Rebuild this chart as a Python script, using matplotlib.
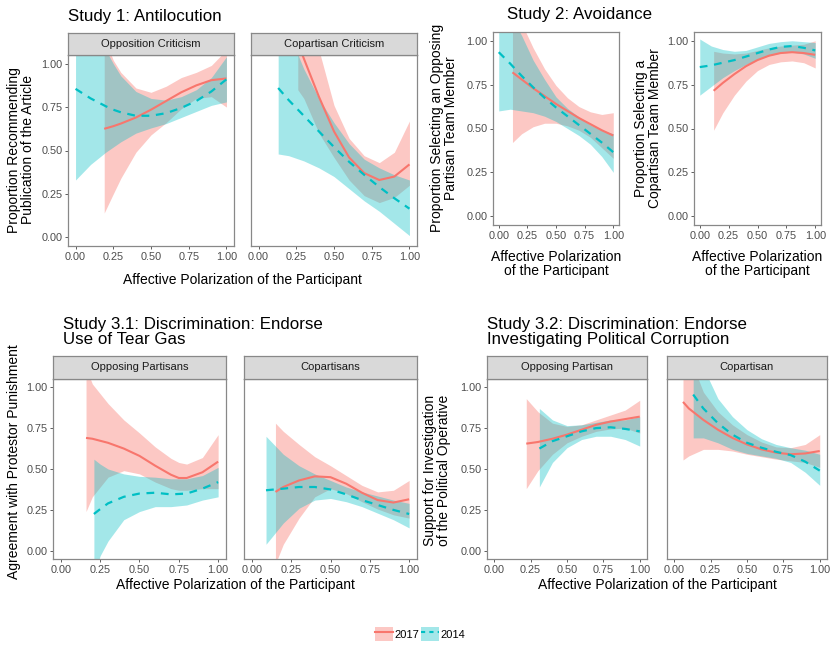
import matplotlib
matplotlib.use("Agg")
import matplotlib.pyplot as plt
from matplotlib.patches import Patch
from matplotlib.lines import Line2D

plt.rcParams['font.family'] = ['Liberation Sans', 'DejaVu Sans']

RED = '#F8766D'
BLUE = '#00BFC4'
W, H = 834, 648

# ---- Study 1, Opposition Criticism
s1_opp_x17 = [0.19, 0.25, 0.3, 0.4, 0.5, 0.6, 0.7, 0.8, 0.9, 1.0]
s1_opp_y17 = [0.625, 0.64, 0.655, 0.69, 0.735, 0.785, 0.835, 0.875, 0.905, 0.915]
s1_opp_lo17 = [0.14, 0.25, 0.34, 0.49, 0.59, 0.66, 0.74, 0.80, 0.81, 0.75]
s1_opp_hi17 = [1.15, 1.02, 0.95, 0.86, 0.835, 0.87, 0.92, 0.95, 0.99, 1.08]
s1_opp_x14 = [0.0, 0.1, 0.2, 0.25, 0.3, 0.4, 0.5, 0.6, 0.7, 0.8, 0.9, 1.0]
s1_opp_y14 = [0.855, 0.80, 0.755, 0.735, 0.72, 0.70, 0.70, 0.715, 0.745, 0.785, 0.84, 0.91]
s1_opp_lo14 = [0.33, 0.42, 0.49, 0.52, 0.55, 0.60, 0.63, 0.655, 0.69, 0.725, 0.76, 0.78]
s1_opp_hi14 = [1.5, 1.3, 1.08, 1.0, 0.93, 0.84, 0.80, 0.79, 0.81, 0.85, 0.92, 1.04]

# ---- Study 1, Copartisan Criticism
s1_cop_x17 = [0.26, 0.3, 0.35, 0.4, 0.5, 0.6, 0.7, 0.8, 0.9, 1.0]
s1_cop_y17 = [1.12, 1.03, 0.92, 0.81, 0.61, 0.46, 0.37, 0.33, 0.35, 0.42]
s1_cop_lo17 = [0.85, 0.80, 0.70, 0.60, 0.46, 0.33, 0.24, 0.20, 0.23, 0.30]
s1_cop_hi17 = [1.6, 1.45, 1.28, 1.08, 0.76, 0.57, 0.47, 0.43, 0.49, 0.67]
s1_cop_x14 = [0.13, 0.2, 0.3, 0.4, 0.5, 0.6, 0.7, 0.8, 0.9, 1.0]
s1_cop_y14 = [0.86, 0.79, 0.70, 0.61, 0.52, 0.435, 0.36, 0.29, 0.225, 0.165]
s1_cop_lo14 = [0.48, 0.47, 0.44, 0.40, 0.35, 0.28, 0.21, 0.15, 0.08, 0.01]
s1_cop_hi14 = [1.4, 1.18, 0.97, 0.80, 0.66, 0.54, 0.45, 0.40, 0.36, 0.33]

# ---- Study 2, opposing partisan team member
s2_opp_x17 = [0.12, 0.2, 0.3, 0.4, 0.5, 0.6, 0.7, 0.8, 0.9, 1.0]
s2_opp_y17 = [0.82, 0.78, 0.73, 0.685, 0.64, 0.60, 0.56, 0.525, 0.49, 0.46]
s2_opp_lo17 = [0.42, 0.47, 0.51, 0.53, 0.53, 0.515, 0.49, 0.45, 0.39, 0.33]
s2_opp_hi17 = [1.25, 1.10, 0.96, 0.84, 0.745, 0.675, 0.625, 0.595, 0.58, 0.59]
s2_opp_x14 = [0.0, 0.1, 0.2, 0.3, 0.4, 0.5, 0.6, 0.7, 0.8, 0.9, 1.0]
s2_opp_y14 = [0.935, 0.87, 0.80, 0.735, 0.675, 0.62, 0.57, 0.52, 0.47, 0.42, 0.365]
s2_opp_lo14 = [0.60, 0.61, 0.60, 0.59, 0.57, 0.54, 0.50, 0.46, 0.41, 0.34, 0.25]
s2_opp_hi14 = [1.35, 1.15, 1.03, 0.89, 0.78, 0.68, 0.615, 0.565, 0.52, 0.49, 0.47]

# ---- Study 2, copartisan team member
s2_cop_x17 = [0.12, 0.2, 0.3, 0.4, 0.5, 0.6, 0.7, 0.8, 0.9, 1.0]
s2_cop_y17 = [0.715, 0.76, 0.81, 0.855, 0.89, 0.915, 0.93, 0.935, 0.93, 0.92]
s2_cop_lo17 = [0.49, 0.59, 0.69, 0.77, 0.83, 0.865, 0.88, 0.885, 0.875, 0.845]
s2_cop_hi17 = [0.94, 0.93, 0.925, 0.93, 0.945, 0.96, 0.97, 0.975, 0.98, 1.0]
s2_cop_x14 = [0.0, 0.1, 0.2, 0.3, 0.4, 0.5, 0.6, 0.7, 0.8, 0.9, 1.0]
s2_cop_y14 = [0.85, 0.86, 0.875, 0.89, 0.91, 0.93, 0.95, 0.965, 0.97, 0.96, 0.945]
s2_cop_lo14 = [0.69, 0.74, 0.79, 0.83, 0.865, 0.895, 0.915, 0.93, 0.935, 0.925, 0.90]
s2_cop_hi14 = [1.01, 0.97, 0.95, 0.94, 0.945, 0.965, 0.985, 0.995, 1.0, 0.995, 0.99]

# ---- Study 3.1, Opposing Partisans
s31_opp_x17 = [0.16, 0.2, 0.3, 0.4, 0.5, 0.6, 0.7, 0.75, 0.8, 0.9, 1.0]
s31_opp_y17 = [0.69, 0.685, 0.66, 0.625, 0.58, 0.52, 0.465, 0.445, 0.445, 0.48, 0.545]
s31_opp_lo17 = [0.24, 0.33, 0.45, 0.49, 0.47, 0.42, 0.38, 0.37, 0.37, 0.38, 0.38]
s31_opp_hi17 = [1.12, 1.02, 0.90, 0.80, 0.72, 0.635, 0.565, 0.54, 0.53, 0.57, 0.71]
s31_opp_x14 = [0.21, 0.25, 0.3, 0.4, 0.5, 0.6, 0.7, 0.8, 0.9, 1.0]
s31_opp_y14 = [0.225, 0.255, 0.29, 0.33, 0.35, 0.355, 0.345, 0.35, 0.38, 0.42]
s31_opp_lo14 = [-0.15, -0.03, 0.06, 0.19, 0.24, 0.27, 0.27, 0.28, 0.31, 0.33]
s31_opp_hi14 = [0.56, 0.53, 0.50, 0.47, 0.455, 0.45, 0.44, 0.44, 0.46, 0.51]

# ---- Study 3.1, Copartisans
s31_cop_x17 = [0.15, 0.2, 0.3, 0.4, 0.5, 0.6, 0.7, 0.8, 0.9, 1.0]
s31_cop_y17 = [0.36, 0.39, 0.43, 0.455, 0.45, 0.41, 0.355, 0.31, 0.295, 0.315]
s31_cop_lo17 = [-0.08, 0.04, 0.20, 0.33, 0.38, 0.35, 0.30, 0.255, 0.22, 0.20]
s31_cop_hi17 = [0.78, 0.73, 0.65, 0.575, 0.52, 0.46, 0.40, 0.36, 0.37, 0.43]
s31_cop_x14 = [0.09, 0.2, 0.3, 0.4, 0.5, 0.6, 0.7, 0.8, 0.9, 1.0]
s31_cop_y14 = [0.37, 0.38, 0.39, 0.39, 0.375, 0.345, 0.31, 0.28, 0.25, 0.225]
s31_cop_lo14 = [0.04, 0.17, 0.26, 0.31, 0.32, 0.30, 0.27, 0.23, 0.19, 0.14]
s31_cop_hi14 = [0.70, 0.59, 0.52, 0.47, 0.43, 0.39, 0.36, 0.335, 0.31, 0.29]

# ---- Study 3.2, Opposing Partisan
s32_opp_x17 = [0.22, 0.3, 0.4, 0.5, 0.6, 0.7, 0.8, 0.9, 1.0]
s32_opp_y17 = [0.655, 0.665, 0.685, 0.71, 0.74, 0.77, 0.79, 0.805, 0.82]
s32_opp_lo17 = [0.38, 0.49, 0.59, 0.66, 0.70, 0.73, 0.745, 0.75, 0.72]
s32_opp_hi17 = [0.93, 0.85, 0.78, 0.76, 0.77, 0.80, 0.83, 0.86, 0.92]
s32_opp_x14 = [0.31, 0.4, 0.5, 0.6, 0.7, 0.8, 0.9, 1.0]
s32_opp_y14 = [0.625, 0.67, 0.70, 0.73, 0.75, 0.755, 0.745, 0.73]
s32_opp_lo14 = [0.39, 0.54, 0.63, 0.68, 0.70, 0.70, 0.68, 0.64]
s32_opp_hi14 = [0.87, 0.80, 0.765, 0.77, 0.785, 0.80, 0.80, 0.82]

# ---- Study 3.2, Copartisan
s32_cop_x17 = [0.06, 0.1, 0.2, 0.3, 0.4, 0.5, 0.6, 0.7, 0.8, 0.9, 1.0]
s32_cop_y17 = [0.91, 0.87, 0.80, 0.74, 0.69, 0.65, 0.62, 0.60, 0.59, 0.595, 0.61]
s32_cop_lo17 = [0.555, 0.58, 0.62, 0.62, 0.61, 0.59, 0.575, 0.56, 0.55, 0.54, 0.51]
s32_cop_hi17 = [1.3, 1.2, 0.97, 0.85, 0.77, 0.71, 0.665, 0.635, 0.63, 0.65, 0.71]
s32_cop_x14 = [0.13, 0.2, 0.3, 0.4, 0.5, 0.6, 0.7, 0.8, 0.9, 1.0]
s32_cop_y14 = [0.955, 0.87, 0.78, 0.71, 0.66, 0.63, 0.605, 0.585, 0.545, 0.49]
s32_cop_lo14 = [0.69, 0.69, 0.66, 0.62, 0.595, 0.58, 0.565, 0.54, 0.48, 0.40]
s32_cop_hi14 = [1.3, 1.12, 0.93, 0.82, 0.74, 0.685, 0.65, 0.63, 0.615, 0.59]

ticks = [0, 0.25, 0.5, 0.75, 1.0]
tick_labels = ['0.00', '0.25', '0.50', '0.75', '1.00']


def box(l, t, r, b):
    return [l / W, 1 - b / H, (r - l) / W, (b - t) / H]


def panel(rect, s17, s14, yticks=True, strip=None, strip_rect=None):
    ax = fig.add_axes(box(*rect))
    x, y, lo, hi = s17
    ax.fill_between(x, lo, hi, color=RED, alpha=0.4, lw=0)
    ax.plot(x, y, color=RED, lw=1.5, solid_capstyle='butt')
    x, y, lo, hi = s14
    ax.fill_between(x, lo, hi, color=BLUE, alpha=0.36, lw=0)
    ax.plot(x, y, color=BLUE, lw=1.6, ls=(0, (3.5, 3)))
    ax.set_xlim(-0.05, 1.05)
    ax.set_ylim(-0.05, 1.05)
    ax.set_xticks(ticks, tick_labels)
    ax.set_yticks(ticks, tick_labels if yticks else [])
    ax.tick_params(length=2.5, width=0.6, color='#444444', labelcolor='#4D4D4D',
                   labelsize=7.8, pad=1.5)
    if not yticks:
        ax.tick_params(axis='y', length=0)
    for s in ax.spines.values():
        s.set_color('#888888')
        s.set_linewidth(0.9)
    if strip:
        sa = fig.add_axes(box(*strip_rect))
        sa.set_facecolor('#D9D9D9')
        sa.set_xticks([])
        sa.set_yticks([])
        for s in sa.spines.values():
            s.set_color('#888888')
            s.set_linewidth(0.9)
        sa.text(0.5, 0.5, strip, ha='center', va='center', fontsize=8, color='#1A1A1A',
                transform=sa.transAxes)
    return ax


fig = plt.figure(figsize=(W / 100, H / 100), dpi=100)

# Study 1
panel((68, 55, 234, 246),
      (s1_opp_x17, s1_opp_y17, s1_opp_lo17, s1_opp_hi17),
      (s1_opp_x14, s1_opp_y14, s1_opp_lo14, s1_opp_hi14),
      strip='Opposition Criticism', strip_rect=(68, 33, 234, 55))
panel((251, 55, 417, 246),
      (s1_cop_x17, s1_cop_y17, s1_cop_lo17, s1_cop_hi17),
      (s1_cop_x14, s1_cop_y14, s1_cop_lo14, s1_cop_hi14),
      yticks=False, strip='Copartisan Criticism', strip_rect=(251, 33, 417, 55))

# Study 2
panel((493, 32, 619, 225),
      (s2_opp_x17, s2_opp_y17, s2_opp_lo17, s2_opp_hi17),
      (s2_opp_x14, s2_opp_y14, s2_opp_lo14, s2_opp_hi14))
panel((694, 32, 821, 225),
      (s2_cop_x17, s2_cop_y17, s2_cop_lo17, s2_cop_hi17),
      (s2_cop_x14, s2_cop_y14, s2_cop_lo14, s2_cop_hi14))

# Study 3.1
panel((53, 379, 226, 559),
      (s31_opp_x17, s31_opp_y17, s31_opp_lo17, s31_opp_hi17),
      (s31_opp_x14, s31_opp_y14, s31_opp_lo14, s31_opp_hi14),
      strip='Opposing Partisans', strip_rect=(53, 356, 226, 379))
panel((244, 379, 417, 559),
      (s31_cop_x17, s31_cop_y17, s31_cop_lo17, s31_cop_hi17),
      (s31_cop_x14, s31_cop_y14, s31_cop_lo14, s31_cop_hi14),
      yticks=False, strip='Copartisans', strip_rect=(244, 356, 417, 379))

# Study 3.2
panel((487, 379, 647, 559),
      (s32_opp_x17, s32_opp_y17, s32_opp_lo17, s32_opp_hi17),
      (s32_opp_x14, s32_opp_y14, s32_opp_lo14, s32_opp_hi14),
      strip='Opposing Partisan', strip_rect=(487, 356, 647, 379))
panel((667, 379, 827, 559),
      (s32_cop_x17, s32_cop_y17, s32_cop_lo17, s32_cop_hi17),
      (s32_cop_x14, s32_cop_y14, s32_cop_lo14, s32_cop_hi14),
      yticks=False, strip='Copartisan', strip_rect=(667, 356, 827, 379))


def ftext(px, py, s, **kw):
    fig.text(px / W, 1 - py / H, s, **kw)


# titles
ftext(68, 17, 'Study 1: Antilocution', fontsize=12.2, ha='left', va='center')
ftext(580, 15, 'Study 2: Avoidance', fontsize=12.2, ha='center', va='center')
ftext(63, 332, 'Study 3.1: Discrimination: Endorse\nUse of Tear Gas', fontsize=12.2,
      ha='left', va='center', linespacing=0.95)
ftext(487, 332, 'Study 3.2: Discrimination: Endorse\nInvestigating Political Corruption',
      fontsize=12.2, ha='left', va='center', linespacing=0.95)

# axis titles
lab = dict(fontsize=10, color='black', linespacing=0.92)
ftext(242, 280, 'Affective Polarization of the Participant', ha='center', va='center', **lab)
ftext(556, 264, 'Affective Polarization\nof the Participant', ha='center', va='center', **lab)
ftext(757, 264, 'Affective Polarization\nof the Participant', ha='center', va='center', **lab)
ftext(235, 585, 'Affective Polarization of the Participant', ha='center', va='center', **lab)
ftext(657, 585, 'Affective Polarization of the Participant', ha='center', va='center', **lab)

ftext(21, 150, 'Proportion Recommending\nPublication of the Article', rotation=90,
      ha='center', va='center', **lab)
ftext(444, 128, 'Proportion Selecting an Opposing\nPartisan Team Member', rotation=90,
      ha='center', va='center', **lab)
ftext(648, 128, 'Proportion Selecting a\nCopartisan Team Member', rotation=90,
      ha='center', va='center', **lab)
ftext(14, 462, 'Agreement with Protestor Punishment', rotation=90,
      ha='center', va='center', **lab)
ftext(437, 470, 'Support for Investigation\nof the Political Operative', rotation=90,
      ha='center', va='center', **lab)

# legend
h17 = (Patch(facecolor=RED, alpha=0.4, lw=0), Line2D([], [], color=RED, lw=1.5))
h14 = (Patch(facecolor=BLUE, alpha=0.36, lw=0), Line2D([], [], color=BLUE, lw=1.5, ls=(0, (2, 2))))
fig.legend([h17, h14], ['2017', '2014'], loc='center', ncol=2,
           bbox_to_anchor=(420 / W, 1 - 634 / H), frameon=False, fontsize=8,
           handlelength=1.6, handleheight=1.6, handletextpad=0.1, columnspacing=0.2)

fig.savefig('out.png', dpi=100)
